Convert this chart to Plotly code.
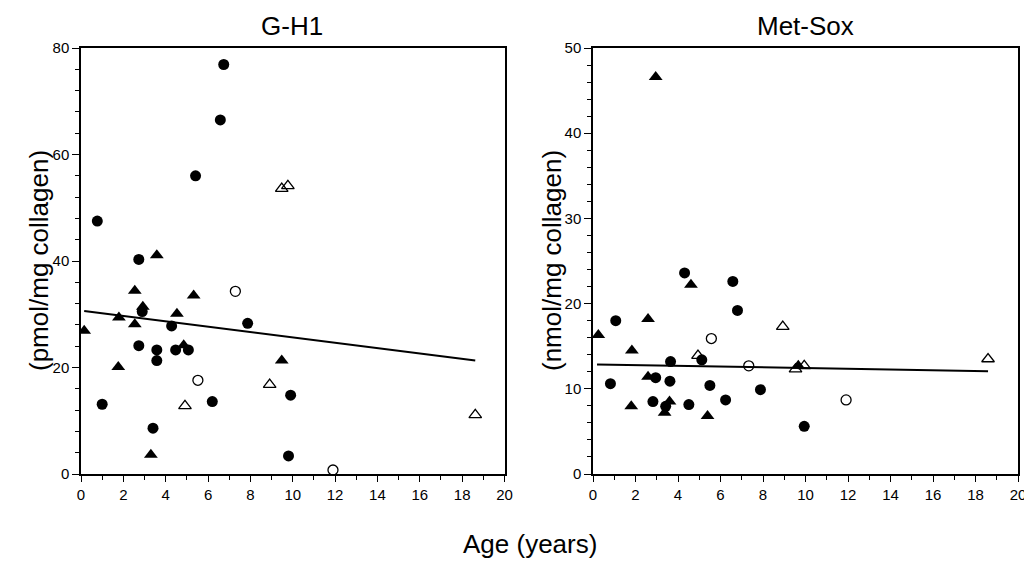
import plotly.graph_objects as go

# ---------------- G-H1 panel data ----------------
gh1_fc_x = [6.74, 6.58, 5.41, 0.77, 2.73, 2.89, 4.28, 7.87, 2.73, 3.58, 4.47, 5.07, 3.58, 1.00, 6.20, 9.90, 3.40, 9.80]
gh1_fc_y = [76.9, 66.5, 56.0, 47.5, 40.3, 30.5, 27.8, 28.3, 24.1, 23.3, 23.3, 23.3, 21.3, 13.1, 13.6, 14.8, 8.6, 3.4]
gh1_ft_x = [3.58, 2.54, 5.32, 2.92, 4.53, 1.79, 2.54, 0.15, 4.85, 1.76, 9.48, 3.30]
gh1_ft_y = [41.1, 34.4, 33.5, 31.4, 30.1, 29.4, 28.1, 26.9, 24.2, 20.1, 21.3, 3.6]
gh1_oc_x = [7.29, 5.52, 11.90]
gh1_oc_y = [34.3, 17.6, 0.75]
gh1_ot_x = [9.48, 9.77, 8.91, 4.91, 18.62]
gh1_ot_y = [53.6, 54.1, 16.8, 12.8, 11.1]
gh1_fit_x = [0.15, 18.62]
gh1_fit_y = [30.6, 21.3]

# ---------------- Met-Sox panel data ----------------
ms_fc_x = [4.31, 6.58, 6.80, 1.07, 3.65, 5.12, 2.95, 0.82, 3.62, 5.50, 7.88, 2.82, 6.24, 3.42, 4.51, 9.94]
ms_fc_y = [23.6, 22.6, 19.2, 18.0, 13.2, 13.4, 11.3, 10.6, 10.9, 10.4, 9.9, 8.5, 8.7, 7.95, 8.15, 5.6]
ms_ft_x = [2.95, 4.61, 2.59, 0.25, 1.83, 2.59, 3.60, 1.80, 3.37, 5.39, 9.66]
ms_ft_y = [46.6, 22.2, 18.2, 16.3, 14.5, 11.4, 8.5, 7.95, 7.2, 6.8, 12.7]
ms_oc_x = [5.57, 7.33, 11.91]
ms_oc_y = [15.9, 12.7, 8.7]
ms_ot_x = [8.93, 4.94, 9.53, 9.94, 18.59]
ms_ot_y = [17.3, 13.9, 12.3, 12.7, 13.5]
ms_fit_x = [0.19, 18.59]
ms_fit_y = [12.86, 12.07]

panel_titles = ["G-H1", "Met-Sox"]
y_titles = ["(pmol/mg collagen)", "(nmol/mg collagen)"]
x_title = "Age (years)"

FONT = "Liberation Sans, Arial, sans-serif"
fig = go.Figure()


def add_panel(xa, ya, fc, ft, oc, ot, fit):
    common = dict(mode="markers", xaxis=xa, yaxis=ya, showlegend=False, hoverinfo="x+y")
    fig.add_trace(go.Scatter(x=fit[0], y=fit[1], mode="lines", xaxis=xa, yaxis=ya,
                             line=dict(color="black", width=2), showlegend=False))
    fig.add_trace(go.Scatter(x=oc[0], y=oc[1], marker=dict(symbol="circle-open", size=10, color="black",
                                                           line=dict(width=1.3)), **common))
    fig.add_trace(go.Scatter(x=ot[0], y=ot[1], marker=dict(symbol="triangle-up-open", size=11, color="black",
                                                           line=dict(width=1.3)), **common))
    fig.add_trace(go.Scatter(x=fc[0], y=fc[1], marker=dict(symbol="circle", size=11, color="black"), **common))
    fig.add_trace(go.Scatter(x=ft[0], y=ft[1], marker=dict(symbol="triangle-up", size=12, color="black"), **common))


add_panel("x", "y", (gh1_fc_x, gh1_fc_y), (gh1_ft_x, gh1_ft_y), (gh1_oc_x, gh1_oc_y),
          (gh1_ot_x, gh1_ot_y), (gh1_fit_x, gh1_fit_y))
add_panel("x2", "y2", (ms_fc_x, ms_fc_y), (ms_ft_x, ms_ft_y), (ms_oc_x, ms_oc_y),
          (ms_ot_x, ms_ot_y), (ms_fit_x, ms_fit_y))

# the page body has an 8px margin; the figure starts at (8, 8) and runs to the window edge
OFF = 8
W, H = 1032 - OFF, 563 - OFF


def px(x):
    return (x - OFF) / W


def py(y):
    return 1 - (y - OFF) / H


xax = dict(range=[0, 20], tickmode="linear", tick0=0, dtick=2, ticks="outside", ticklen=6,
           tickwidth=1.2, tickcolor="black", showline=True, linecolor="black", linewidth=1.5,
           mirror=True, showgrid=False, zeroline=False, automargin=False, ticklabeloverflow="allow",
           tickfont=dict(size=15, color="black", family=FONT),
           minor=dict(dtick=1, ticks="outside", ticklen=4, tickcolor="black", tickwidth=1.2, showgrid=False))
yax = dict(ticks="outside", ticklen=7, tickwidth=1.2, tickcolor="black", showline=True,
           linecolor="black", linewidth=1.5, mirror=True, showgrid=False, zeroline=False, automargin=False,
           tickfont=dict(size=15, color="black", family=FONT))

ytop, ybot = py(48), py(474)

fig.update_layout(
    width=W, height=H, margin=dict(l=0, r=0, t=0, b=0, autoexpand=False),
    paper_bgcolor="white", plot_bgcolor="white",
    font=dict(family=FONT, color="black"),
    xaxis=dict(domain=[px(81), px(504.5)], anchor="y", **xax),
    xaxis2=dict(domain=[px(593), px(1018)], anchor="y2", **xax),
    yaxis=dict(domain=[ybot, ytop], anchor="x", range=[0, 80], tickmode="linear", tick0=0, dtick=20,
               minor=dict(dtick=4, ticks="outside", ticklen=4, tickcolor="black", tickwidth=1.2, showgrid=False),
               **yax),
    yaxis2=dict(domain=[ybot, ytop], anchor="x2", range=[0, 50], tickmode="linear", tick0=0, dtick=10,
                minor=dict(dtick=2, ticks="outside", ticklen=4, tickcolor="black", tickwidth=1.2, showgrid=False),
                **yax),
    annotations=[
        dict(text=panel_titles[0], x=px(292), y=py(9), xref="paper", yref="paper", showarrow=False,
             font=dict(size=26, color="black"), xanchor="center", yanchor="top"),
        dict(text=panel_titles[1], x=px(805), y=py(9), xref="paper", yref="paper", showarrow=False,
             font=dict(size=26, color="black"), xanchor="center", yanchor="top"),
        dict(text=y_titles[0], x=px(39), y=(ybot + ytop) / 2, xref="paper", yref="paper", showarrow=False,
             textangle=-90, font=dict(size=26, color="black"), xanchor="center", yanchor="middle"),
        dict(text=y_titles[1], x=px(552), y=(ybot + ytop) / 2, xref="paper", yref="paper", showarrow=False,
             textangle=-90, font=dict(size=26, color="black"), xanchor="center", yanchor="middle"),
        dict(text=x_title, x=px(530), y=py(544), xref="paper", yref="paper", showarrow=False,
             font=dict(size=26, color="black"), xanchor="center", yanchor="middle"),
    ],
)

fig.write_html("out.html")
